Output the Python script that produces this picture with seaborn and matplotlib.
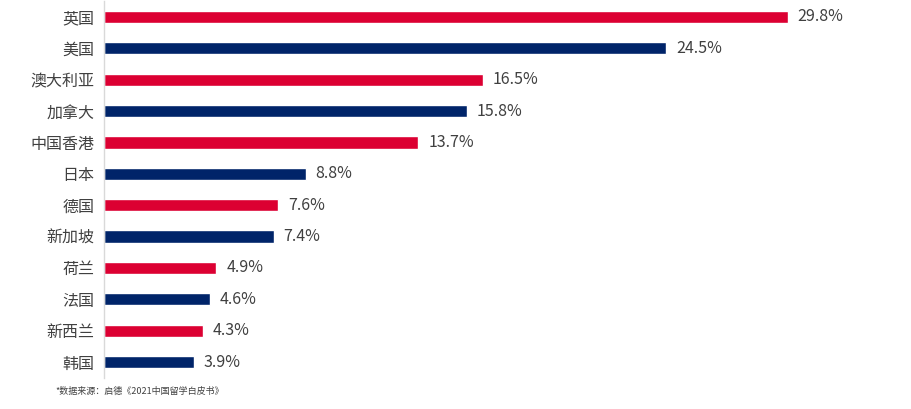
import matplotlib
matplotlib.use("Agg")
import matplotlib.pyplot as plt
import seaborn as sns
import pandas as pd

countries = ["英国", "美国", "澳大利亚", "加拿大", "中国香港", "日本", "德国", "新加坡", "荷兰", "法国", "新西兰", "韩国"]
values = [29.8, 24.5, 16.5, 15.8, 13.7, 8.8, 7.6, 7.4, 4.9, 4.6, 4.3, 3.9]
value_labels = ["29.8%", "24.5%", "16.5%", "15.8%", "13.7%", "8.8%", "7.6%", "7.4%", "4.9%", "4.6%", "4.3%", "3.9%"]
red = "#DC0032"
navy = "#002469"
bar_colors = [red if i % 2 == 0 else navy for i in range(len(countries))]
footnote = "*数据来源：启德《2021中国留学白皮书》"

sns.set_theme(style="white")
plt.rcParams['font.family'] = ['Noto Sans CJK SC', 'DejaVu Sans']

df = pd.DataFrame({"country": countries, "value": values})

fig = plt.figure(figsize=(9.11, 4.09), dpi=100)
ax = fig.add_axes([104/911, 0.0765, 796/911, 0.9203])

sns.barplot(data=df, x="value", y="country", hue="country",
            palette=dict(zip(countries, bar_colors)), legend=False,
            width=0.39, ax=ax, orient="h", saturation=1)

for cont, lab in zip(ax.containers, value_labels):
    ax.bar_label(cont, labels=[lab], padding=7, fontsize=11.5, color="#404040")

ax.set_xlim(0, 796/22.95)
ax.set_ylim(11.5, -0.5)
ax.set_xlabel("")
ax.set_ylabel("")
ax.set_xticks([])
ax.tick_params(axis="y", length=0, pad=7, labelsize=11.5, labelcolor="#404040")
for s in ["top", "right", "bottom"]:
    ax.spines[s].set_visible(False)
ax.spines["left"].set_color("#D9D9D9")
ax.spines["left"].set_linewidth(1)

fig.text(55/911, 1 - 391/409, footnote, fontsize=6.5, color="#404040", va="center", ha="left")

fig.savefig("out.png", dpi=100)
